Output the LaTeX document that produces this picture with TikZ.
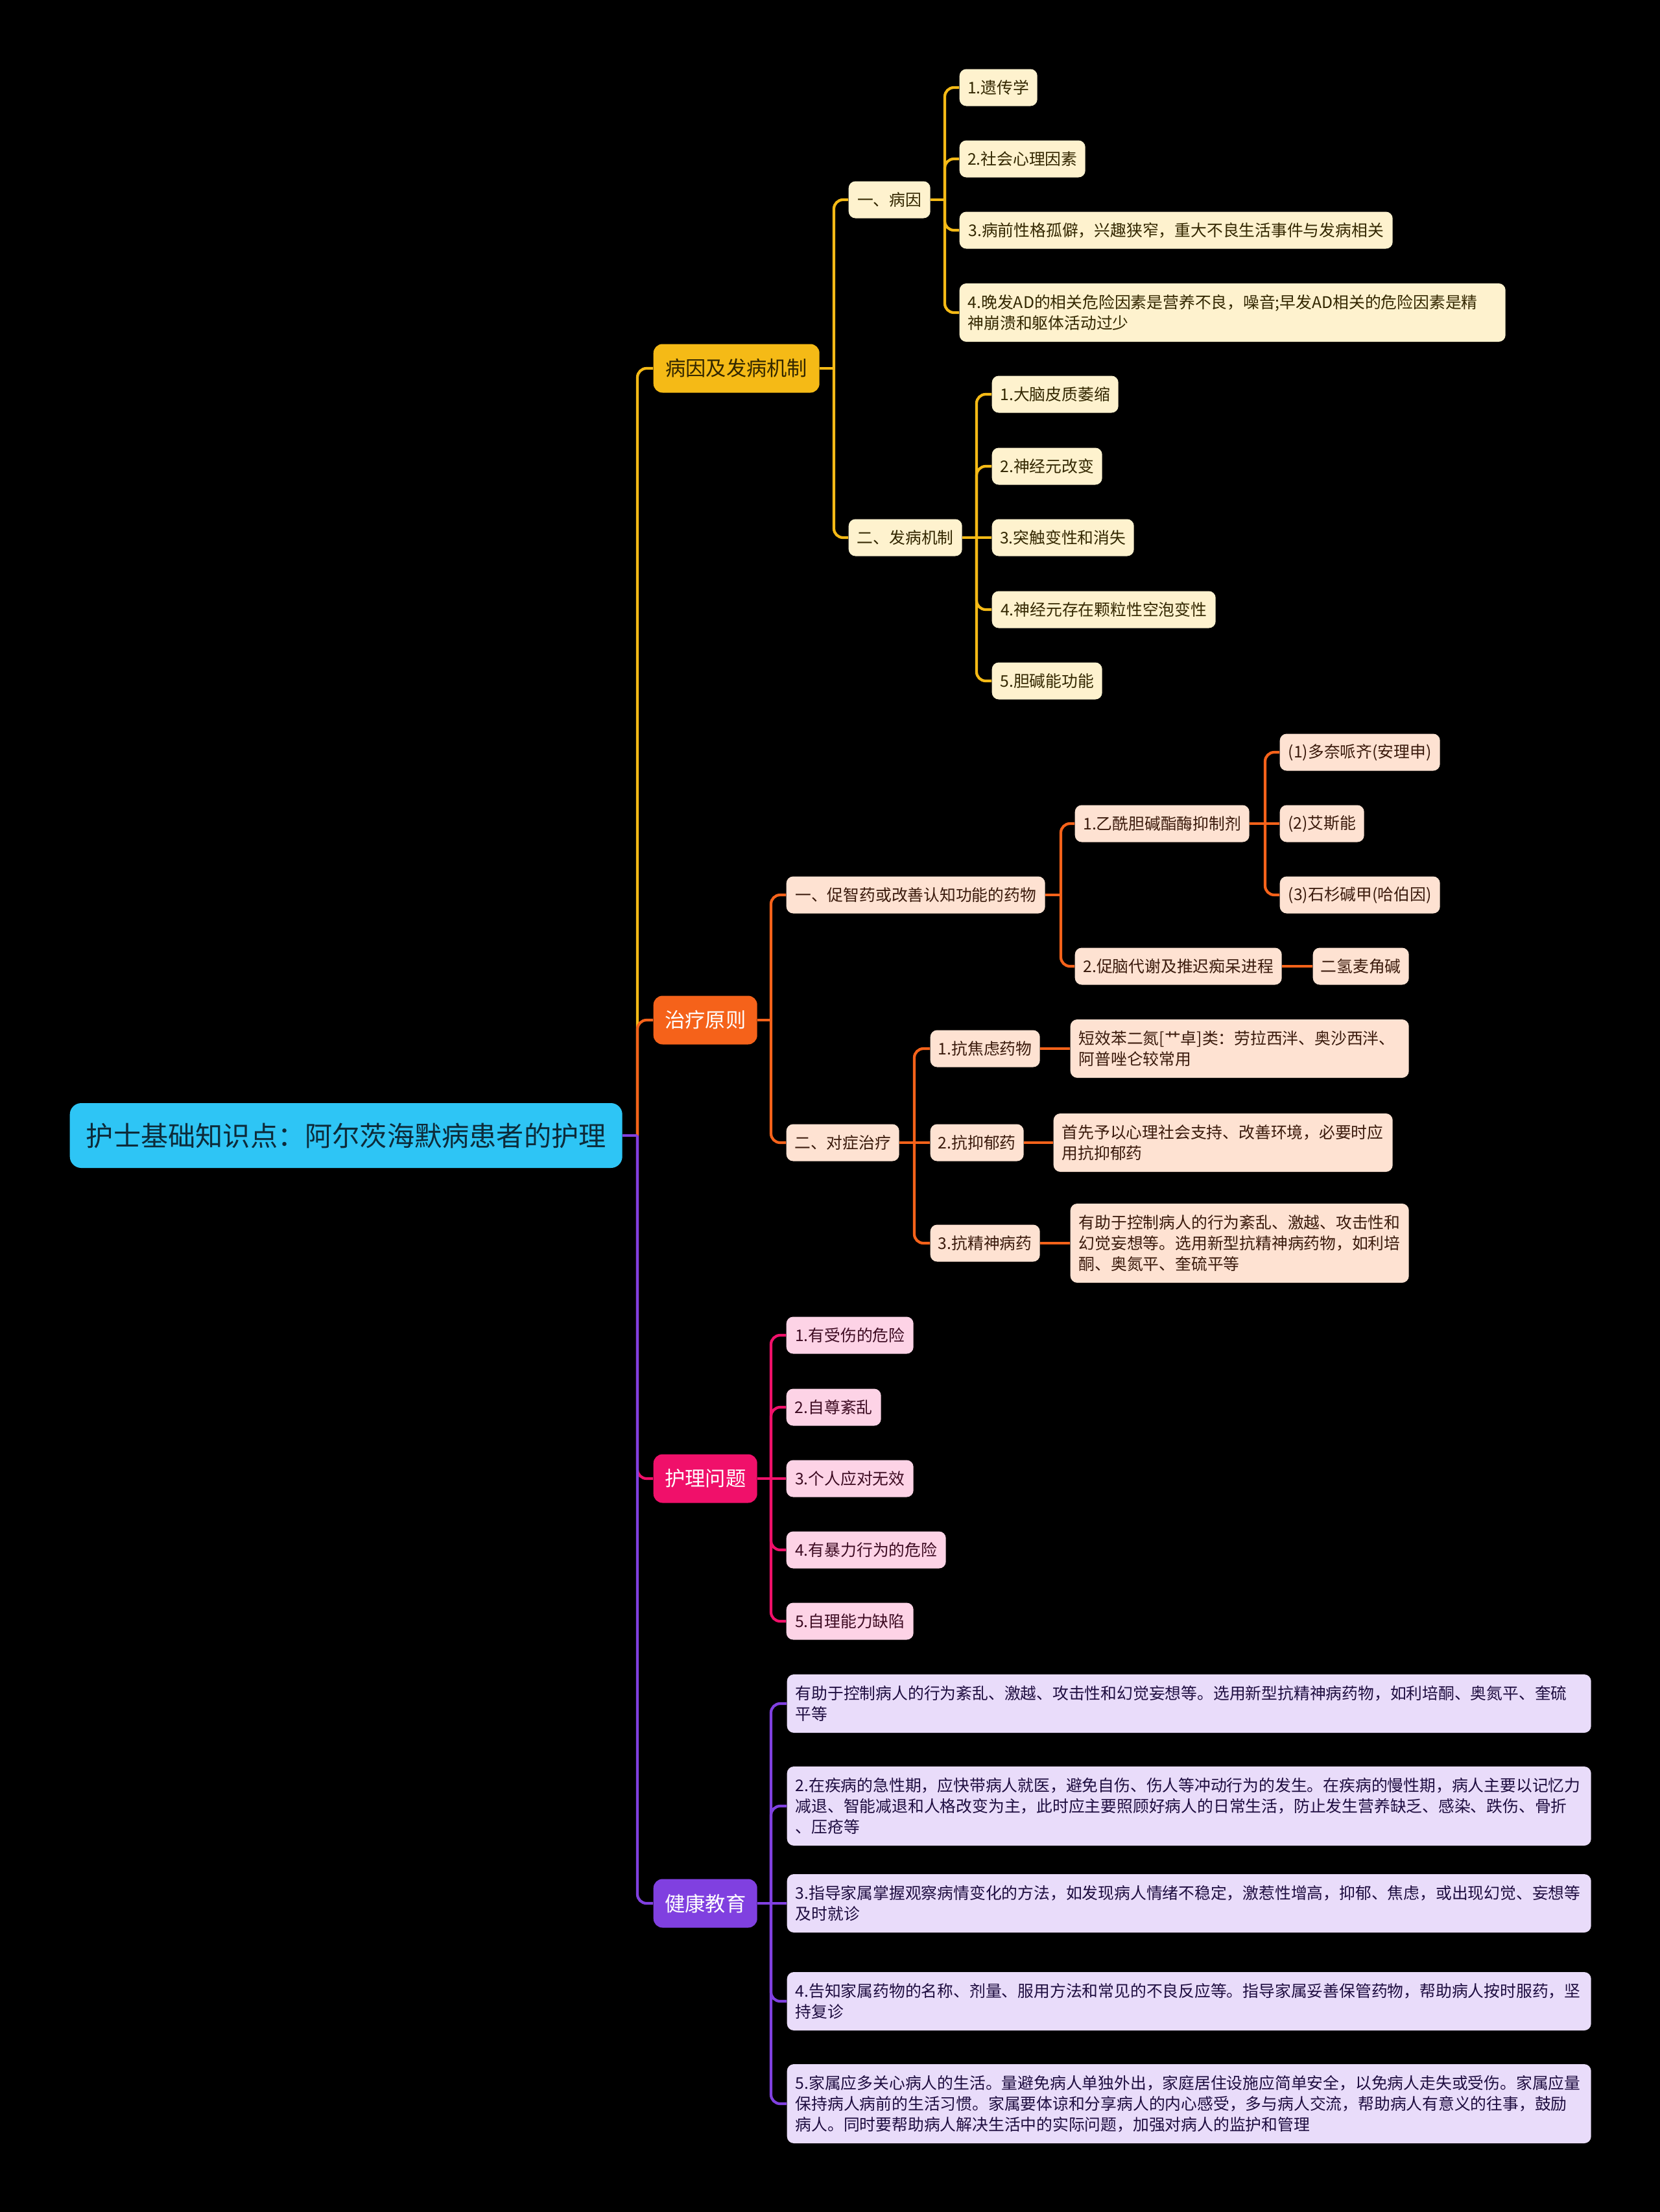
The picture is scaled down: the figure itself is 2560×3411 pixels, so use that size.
\documentclass[tikz,border=0pt]{standalone}
\usepackage{fontspec}
\setmainfont{Noto Sans CJK SC}
\newdimen\upx
\upx=0.01cm
\definecolor{croot}{HTML}{2EC5F5}
\definecolor{croottxt}{HTML}{0D2B3A}
\definecolor{cyel}{HTML}{F5BA16}
\definecolor{cyelL}{HTML}{FEF2CE}
\definecolor{cyelT}{HTML}{332700}
\definecolor{cora}{HTML}{F5621A}
\definecolor{coraL}{HTML}{FEE2D2}
\definecolor{coraT}{HTML}{3A1A0C}
\definecolor{cpin}{HTML}{F0106A}
\definecolor{cpinL}{HTML}{FDD3E6}
\definecolor{cpinT}{HTML}{3D0B22}
\definecolor{cpur}{HTML}{8040E0}
\definecolor{cpurL}{HTML}{E9DCFA}
\definecolor{cpurT}{HTML}{1E0D40}
\tikzset{
  nbase/.style={anchor=west, rounded corners=3pt, inner ysep=1pt, font=\fontsize{7.05pt}{9.1pt}\selectfont},
  box1/.style={nbase, inner xsep=0pt, minimum width=#1\upx, minimum height=57\upx},
  box2/.style={nbase, align=left, inner xsep=13\upx, text width=#1\upx, minimum height=90\upx},
  box3/.style={nbase, align=left, inner xsep=13\upx, text width=#1\upx, minimum height=122\upx},
  lvone/.style={anchor=west, rounded corners=4pt, inner sep=0pt, minimum height=75\upx, minimum width=#1\upx, font=\fontsize{8.9pt}{10pt}\selectfont},
  yb/.style={fill=cyelL, text=cyelT},
  ob/.style={fill=coraL, text=coraT},
  pb/.style={fill=cpinL, text=cpinT},
  ub/.style={fill=cpurL, text=cpurT},
  lnY/.style={draw=cyel, line width=1.2pt, rounded corners=4pt},
  lnO/.style={draw=cora, line width=1.2pt, rounded corners=4pt},
  lnP/.style={draw=cpin, line width=1.2pt, rounded corners=4pt},
  lnU/.style={draw=cpur, line width=1.2pt, rounded corners=4pt},
}
\begin{document}
\begin{tikzpicture}[x=0.01cm,y=-0.01cm]
\fill[black] (0,0) rectangle (2560,3411);
\useasboundingbox (0,0) rectangle (2560,3411);

% root
\node[anchor=west, fill=croot, text=croottxt, rounded corners=5pt, inner sep=0pt, minimum width=852\upx, minimum height=100\upx, font=\fontsize{12pt}{14pt}\selectfont] (root) at (107,1751) {护士基础知识点：阿尔茨海默病患者的护理};

% level 1
\node[lvone=256, fill=cyel, text=cyelT] (L1a) at (1007,568) {病因及发病机制};
\node[lvone=160, fill=cora, text=white] (L1b) at (1007,1573) {治疗原则};
\node[lvone=160, fill=cpin, text=white] (L1c) at (1007,2280) {护理问题};
\node[lvone=160, fill=cpur, text=white] (L1d) at (1007,2935) {健康教育};

% junction coordinates
\coordinate (jR) at (983,1751);
\coordinate (jA) at (1286,568);
\coordinate (jA1) at (1457,308);
\coordinate (jA2) at (1506,829);
\coordinate (jB) at (1189,1573);
\coordinate (jB1) at (1636,1380);
\coordinate (jB1a) at (1951,1270);
\coordinate (jB2) at (1410,1762);
\coordinate (jC) at (1189,2280);
\coordinate (jD) at (1189,2935);

% branch A
\node[box1=126, yb] (A1) at (1308,308) {一、病因};
\node[box1=120, yb] (A1c1) at (1479,135) {1.遗传学};
\node[box1=194, yb] (A1c2) at (1479,245) {2.社会心理因素};
\node[box1=668, yb] (A1c3) at (1479,355) {3.病前性格孤僻，兴趣狭窄，重大不良生活事件与发病相关};
\node[box2=816, yb] (A1c4) at (1479,482) {4.晚发AD的相关危险因素是营养不良，噪音;早发AD相关的危险因素是精\\神崩溃和躯体活动过少};
\node[box1=175, yb] (A2) at (1308,829) {二、发病机制};
\node[box1=195, yb] (A2c1) at (1529,608) {1.大脑皮质萎缩};
\node[box1=170, yb] (A2c2) at (1529,719) {2.神经元改变};
\node[box1=219, yb] (A2c3) at (1529,829) {3.突触变性和消失};
\node[box1=345, yb] (A2c4) at (1529,940) {4.神经元存在颗粒性空泡变性};
\node[box1=170, yb] (A2c5) at (1529,1050) {5.胆碱能功能};

% branch B
\node[box1=399, ob] (B1) at (1212,1380) {一、促智药或改善认知功能的药物};
\node[box1=269, ob] (B1a) at (1657,1270) {1.乙酰胆碱酯酶抑制剂};
\node[box1=247, ob] (B1a1) at (1973,1160) {(1)多奈哌齐(安理申)};
\node[box1=130, ob] (B1a2) at (1973,1270) {(2)艾斯能};
\node[box1=247, ob] (B1a3) at (1973,1380) {(3)石杉碱甲(哈伯因)};
\node[box1=319, ob] (B1b) at (1657,1490) {2.促脑代谢及推迟痴呆进程};
\node[box1=148, ob] (B1b1) at (2024,1490) {二氢麦角碱};
\node[box1=174, ob] (B2) at (1212,1762) {二、对症治疗};
\node[box1=169, ob] (B2a) at (1434,1617) {1.抗焦虑药物};
\node[box2=496, ob] (B2a1) at (1650,1617) {短效苯二氮[艹卓]类：劳拉西泮、奥沙西泮、\\阿普唑仑较常用};
\node[box1=144, ob] (B2b) at (1434,1762) {2.抗抑郁药};
\node[box2=497, ob] (B2b1) at (1624,1762) {首先予以心理社会支持、改善环境，必要时应\\用抗抑郁药};
\node[box1=169, ob] (B2c) at (1434,1917) {3.抗精神病药};
\node[box3=496, ob] (B2c1) at (1650,1917) {有助于控制病人的行为紊乱、激越、攻击性和\\幻觉妄想等。选用新型抗精神病药物，如利培\\酮、奥氮平、奎硫平等};

% branch C
\node[box1=196, pb] (C1) at (1212,2059) {1.有受伤的危险};
\node[box1=146, pb] (C2) at (1212,2170) {2.自尊紊乱};
\node[box1=196, pb] (C3) at (1212,2280) {3.个人应对无效};
\node[box1=246, pb] (C4) at (1212,2390) {4.有暴力行为的危险};
\node[box1=196, pb] (C5) at (1212,2500) {5.自理能力缺陷};

% branch D
\node[box2=1214, ub] (D1) at (1213,2627) {有助于控制病人的行为紊乱、激越、攻击性和幻觉妄想等。选用新型抗精神病药物，如利培酮、奥氮平、奎硫\\平等};
\node[box3=1214, ub] (D2) at (1213,2785) {2.在疾病的急性期，应快带病人就医，避免自伤、伤人等冲动行为的发生。在疾病的慢性期，病人主要以记忆力\\减退、智能减退和人格改变为主，此时应主要照顾好病人的日常生活，防止发生营养缺乏、感染、跌伤、骨折\\、压疮等};
\node[box2=1214, ub] (D3) at (1213,2935) {3.指导家属掌握观察病情变化的方法，如发现病人情绪不稳定，激惹性增高，抑郁、焦虑，或出现幻觉、妄想等\\及时就诊};
\node[box2=1214, ub] (D4) at (1213,3086) {4.告知家属药物的名称、剂量、服用方法和常见的不良反应等。指导家属妥善保管药物，帮助病人按时服药，坚\\持复诊};
\node[box3=1214, ub] (D5) at (1213,3244) {5.家属应多关心病人的生活。量避免病人单独外出，家庭居住设施应简单安全，以免病人走失或受伤。家属应量\\保持病人病前的生活习惯。家属要体谅和分享病人的内心感受，多与病人交流，帮助病人有意义的往事，鼓励\\病人。同时要帮助病人解决生活中的实际问题，加强对病人的监护和管理};

% connectors: root to level 1 (yellow, orange, pink, purple order)
\draw[lnY] (root.east) -- (jR);
\draw[lnY] (jR) |- (L1a.west);
\draw[lnO] (root.east) -- (jR);
\draw[lnO] (jR) |- (L1b.west);
\draw[lnP] (root.east) -- (jR);
\draw[lnP] (jR) |- (L1c.west);
\draw[lnU] (root.east) -- (jR);
\draw[lnU] (jR) |- (L1d.west);

% branch A connectors
\draw[lnY] (L1a.east) -- (jA);
\draw[lnY] (jA) |- (A1.west);
\draw[lnY] (jA) |- (A2.west);
\draw[lnY] (A1.east) -- (jA1);
\draw[lnY] (jA1) |- (A1c1.west);
\draw[lnY] (jA1) |- (A1c2.west);
\draw[lnY] (jA1) |- (A1c3.west);
\draw[lnY] (jA1) |- (A1c4.west);
\draw[lnY] (A2.east) -- (jA2);
\draw[lnY] (jA2) |- (A2c1.west);
\draw[lnY] (jA2) |- (A2c2.west);
\draw[lnY] (jA2) -- (A2c3.west);
\draw[lnY] (jA2) |- (A2c4.west);
\draw[lnY] (jA2) |- (A2c5.west);

% branch B connectors
\draw[lnO] (L1b.east) -- (jB);
\draw[lnO] (jB) |- (B1.west);
\draw[lnO] (jB) |- (B2.west);
\draw[lnO] (B1.east) -- (jB1);
\draw[lnO] (jB1) |- (B1a.west);
\draw[lnO] (jB1) |- (B1b.west);
\draw[lnO] (B1a.east) -- (jB1a);
\draw[lnO] (jB1a) |- (B1a1.west);
\draw[lnO] (jB1a) -- (B1a2.west);
\draw[lnO] (jB1a) |- (B1a3.west);
\draw[lnO] (B1b.east) -- (B1b1.west);
\draw[lnO] (B2.east) -- (jB2);
\draw[lnO] (jB2) |- (B2a.west);
\draw[lnO] (jB2) -- (B2b.west);
\draw[lnO] (jB2) |- (B2c.west);
\draw[lnO] (B2a.east) -- (B2a1.west);
\draw[lnO] (B2b.east) -- (B2b1.west);
\draw[lnO] (B2c.east) -- (B2c1.west);

% branch C connectors
\draw[lnP] (L1c.east) -- (jC);
\draw[lnP] (jC) |- (C1.west);
\draw[lnP] (jC) |- (C2.west);
\draw[lnP] (jC) -- (C3.west);
\draw[lnP] (jC) |- (C4.west);
\draw[lnP] (jC) |- (C5.west);

% branch D connectors
\draw[lnU] (L1d.east) -- (jD);
\draw[lnU] (jD) |- (D1.west);
\draw[lnU] (jD) |- (D2.west);
\draw[lnU] (jD) -- (D3.west);
\draw[lnU] (jD) |- (D4.west);
\draw[lnU] (jD) |- (D5.west);
\end{tikzpicture}
\end{document}
